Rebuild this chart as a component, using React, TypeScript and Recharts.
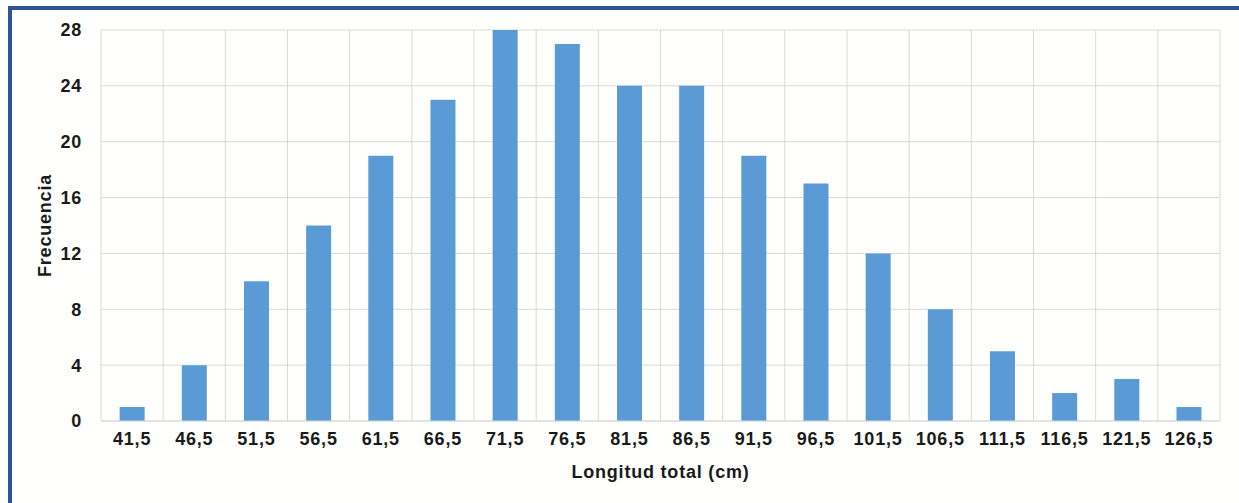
import { BarChart, Bar, XAxis, YAxis, CartesianGrid } from "recharts";

const clases = [
  "41,5", "46,5", "51,5", "56,5", "61,5", "66,5", "71,5", "76,5", "81,5",
  "86,5", "91,5", "96,5", "101,5", "106,5", "111,5", "116,5", "121,5", "126,5",
];
const frecuencias = [1, 4, 10, 14, 19, 23, 28, 27, 24, 24, 19, 17, 12, 8, 5, 2, 3, 1];
const yTicks = [0, 4, 8, 12, 16, 20, 24, 28];

const data = clases.map((c, i) => ({ clase: c, frecuencia: frecuencias[i] }));

const font = {
  fontFamily: "Arial, 'Liberation Sans', sans-serif",
  fontWeight: 700,
  fontSize: 18,
  letterSpacing: 0.8,
  fill: "#1a1a1a",
};

export default function App() {
  return (
    <div
      style={{
        position: "fixed",
        left: 0,
        top: 0,
        width: 1239,
        height: 503,
        background: "#fff",
        overflow: "hidden",
      }}
    >
      <div
        style={{
          position: "absolute",
          left: 8,
          top: 6,
          width: 1300,
          height: 600,
          borderTop: "4px solid #2F5597",
          borderLeft: "4px solid #2F5597",
          background: "#fffffd",
        }}
      />
      <div style={{ position: "absolute", left: 0, top: 0 }}>
        <BarChart
          width={1239}
          height={503}
          data={data}
          margin={{ top: 30, right: 19, bottom: 0, left: 0 }}
          barCategoryGap="30%"
        >
          <CartesianGrid
            stroke="#d9d9d9"
            verticalCoordinatesGenerator={({ offset }: any) =>
              clases
                .map((_, i) => offset.left + (i * offset.width) / clases.length)
                .concat(offset.left + offset.width)
            }
          />
          <XAxis
            dataKey="clase"
            height={82}
            tickLine={false}
            axisLine={{ stroke: "#d9d9d9" }}
            tickSize={0}
            tickMargin={11}
            tick={font}
            interval={0}
            label={{
              value: "Longitud total (cm)",
              position: "insideBottom",
              offset: 25,
              style: font,
            }}
          />
          <YAxis
            width={101}
            domain={[0, 28]}
            ticks={yTicks}
            tickLine={false}
            axisLine={false}
            tickSize={0}
            tickMargin={19}
            tick={font}
            label={{
              value: "Frecuencia",
              angle: -90,
              position: "insideLeft",
              offset: 45,
              style: { ...font, textAnchor: "middle" },
            }}
          />
          <Bar dataKey="frecuencia" fill="#5b9bd5" isAnimationActive={false} />
        </BarChart>
      </div>
    </div>
  );
}
